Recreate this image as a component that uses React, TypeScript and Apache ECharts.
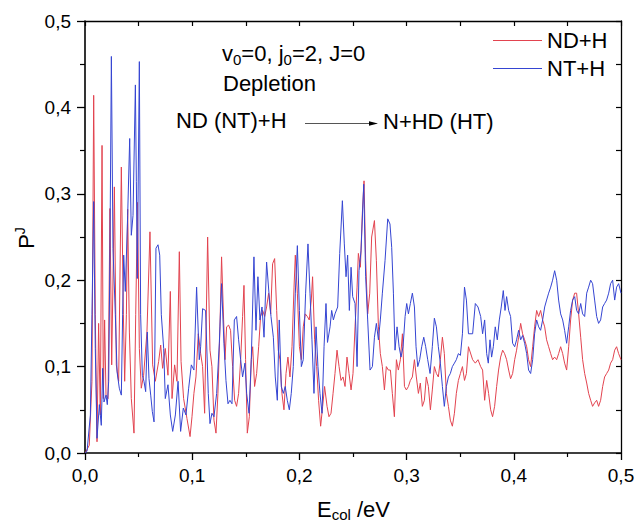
import React, { useEffect, useRef } from "react";
import * as echarts from "echarts";

// ND+H (red) — [E_col (eV), P^J]
const ndSeg1: [number, number][] = [
  [0, 0], [0.001, 0.002], [0.004, 0.009], [0.0065, 0.083], [0.0081, 0.414], [0.0096, 0.16], [0.0112, 0.013],
  [0.0127, 0.15], [0.0143, 0.044], [0.0159, 0.356], [0.0171, 0.063], [0.0183, 0.154], [0.0196, 0.067],
  [0.0215, 0.063], [0.0233, 0.283], [0.0249, 0.102], [0.0274, 0.308], [0.0292, 0.102], [0.0314, 0.083],
  [0.0339, 0.331], [0.0358, 0.16], [0.037, 0.083], [0.0386, 0.16], [0.0398, 0.282], [0.0414, 0.14],
  [0.0432, 0.063], [0.0457, 0.023], [0.0473, 0.16], [0.049, 0.29], [0.0507, 0.121], [0.0525, 0.075],
  [0.0547, 0.09], [0.0578, 0.14], [0.0606, 0.256], [0.0631, 0.102], [0.0656, 0.083], [0.0687, 0.106],
  [0.0706, 0.125], [0.0724, 0.098], [0.0749, 0.121], [0.0774, 0.09], [0.0796, 0.187], [0.0812, 0.063],
  [0.0836, 0.102], [0.0858, 0.083], [0.088, 0.233], [0.0896, 0.106], [0.092, 0.063], [0.0951, 0.04],
  [0.098, 0.019],
];
const ndSeg2: [number, number][] = [
  [0.0998, 0.042], [0.1016, 0.069], [0.1035, 0.088], [0.1057, 0.138], [0.1079, 0.115], [0.1097, 0.1],
  [0.1116, 0.046], [0.1144, 0.25], [0.1166, 0.119], [0.1184, 0.1], [0.1203, 0.038], [0.1222, 0.023],
  [0.124, 0.069], [0.1259, 0.146], [0.1274, 0.227], [0.1293, 0.154], [0.1306, 0.108], [0.1321, 0.146],
  [0.134, 0.148], [0.1358, 0.142], [0.1377, 0.1], [0.1396, 0.061], [0.1414, 0.054], [0.1433, 0.069],
  [0.1452, 0.108], [0.147, 0.158], [0.1483, 0.194], [0.1498, 0.108], [0.1514, 0.023], [0.1533, 0.042],
  [0.1551, 0.108], [0.1564, 0.123], [0.1582, 0.077], [0.1601, 0.092], [0.162, 0.123], [0.1638, 0.158],
  [0.1657, 0.165], [0.1676, 0.158], [0.1694, 0.169], [0.1713, 0.185], [0.1732, 0.161], [0.175, 0.219],
  [0.1769, 0.225], [0.1788, 0.165], [0.1803, 0.119], [0.1819, 0.108], [0.1837, 0.069], [0.1856, 0.05],
  [0.1875, 0.092], [0.1893, 0.111], [0.1912, 0.088], [0.1931, 0.123], [0.195, 0.192], [0.1962, 0.229],
  [0.1981, 0.185], [0.2, 0.123], [0.2018, 0.108], [0.2036, 0.146], [0.2055, 0.161], [0.2074, 0.158],
  [0.2092, 0.154], [0.2111, 0.177], [0.2123, 0.204], [0.2142, 0.131], [0.2161, 0.1], [0.2179, 0.061],
  [0.2198, 0.031], [0.2217, 0.054], [0.2235, 0.077],
];
const ndSeg3: [number, number][] = [
  [0.2258, 0.054], [0.2276, 0.042], [0.2295, 0.046], [0.2314, 0.069], [0.2332, 0.092], [0.2351, 0.119],
  [0.237, 0.1], [0.2388, 0.084], [0.2407, 0.088], [0.2426, 0.077], [0.2444, 0.111], [0.2463, 0.092],
  [0.2482, 0.073], [0.25, 0.092], [0.2519, 0.146], [0.2538, 0.192], [0.255, 0.231], [0.2569, 0.215],
  [0.2587, 0.277], [0.2603, 0.315], [0.2618, 0.223], [0.2637, 0.161], [0.2656, 0.185], [0.2674, 0.25],
  [0.27, 0.269], [0.2718, 0.223], [0.2737, 0.146], [0.2755, 0.115], [0.2774, 0.1], [0.2793, 0.073],
  [0.2811, 0.1], [0.283, 0.096], [0.2849, 0.096], [0.2867, 0.069], [0.2886, 0.042], [0.2905, 0.108],
  [0.2923, 0.096], [0.2942, 0.108], [0.2961, 0.138], [0.298, 0.077], [0.2998, 0.073], [0.3017, 0.077],
  [0.3035, 0.084], [0.3054, 0.088], [0.3073, 0.108], [0.3091, 0.088], [0.311, 0.069], [0.3128, 0.081],
  [0.3147, 0.054], [0.3166, 0.061], [0.3184, 0.088], [0.3203, 0.077], [0.3222, 0.05], [0.324, 0.073],
  [0.3259, 0.1], [0.3278, 0.092], [0.3296, 0.088], [0.3315, 0.108], [0.3334, 0.134], [0.3352, 0.115],
  [0.3371, 0.069], [0.339, 0.054], [0.3408, 0.038], [0.3427, 0.031], [0.3446, 0.046], [0.3464, 0.069],
  [0.3483, 0.084], [0.3502, 0.092], [0.3521, 0.1], [0.354, 0.084], [0.3558, 0.092], [0.3577, 0.123],
];
const ndSeg4: [number, number][] = [
  [0.3616, 0.108], [0.3641, 0.104], [0.3666, 0.108], [0.3691, 0.1], [0.3709, 0.096], [0.3728, 0.061],
  [0.3747, 0.084], [0.3765, 0.069], [0.3784, 0.05], [0.3802, 0.042], [0.3821, 0.054], [0.384, 0.077],
  [0.3858, 0.096], [0.3877, 0.111], [0.3896, 0.119], [0.3914, 0.115], [0.3933, 0.108], [0.3952, 0.096],
  [0.397, 0.086], [0.3989, 0.092], [0.4008, 0.108], [0.4026, 0.119], [0.4045, 0.134], [0.4064, 0.15],
  [0.4082, 0.138], [0.4101, 0.131], [0.412, 0.123], [0.4138, 0.108], [0.4157, 0.1], [0.4176, 0.123],
  [0.4194, 0.146], [0.4213, 0.165], [0.4232, 0.158], [0.425, 0.165], [0.4269, 0.154], [0.4288, 0.146],
  [0.4306, 0.131], [0.4325, 0.123], [0.4344, 0.115], [0.4362, 0.108], [0.4381, 0.111], [0.44, 0.108],
  [0.4418, 0.115], [0.4437, 0.123], [0.4456, 0.115], [0.4474, 0.104], [0.4493, 0.096], [0.4512, 0.123],
  [0.453, 0.154], [0.4549, 0.177], [0.4568, 0.185], [0.4586, 0.185], [0.4605, 0.161], [0.4624, 0.134],
  [0.4642, 0.108], [0.4661, 0.092], [0.468, 0.081], [0.4698, 0.069], [0.4717, 0.061], [0.4735, 0.054],
  [0.4754, 0.058], [0.4773, 0.061], [0.4791, 0.054], [0.481, 0.061], [0.4829, 0.077], [0.4847, 0.088],
  [0.4866, 0.092], [0.4885, 0.096], [0.4903, 0.104], [0.4922, 0.108], [0.4941, 0.119], [0.4959, 0.123],
  [0.4978, 0.115], [0.5, 0.108],
];

// NT+H (blue) — [E_col (eV), P^J]
const ntSeg1: [number, number][] = [
  [0, 0], [0.0019, 0.002], [0.005, 0.044], [0.0065, 0.16], [0.0081, 0.291], [0.0096, 0.121], [0.0112, 0.017],
  [0.0134, 0.056], [0.0152, 0.032], [0.0165, 0.098], [0.0177, 0.059], [0.0196, 0.067], [0.0208, 0.056],
  [0.0221, 0.083], [0.0233, 0.237], [0.0246, 0.459], [0.0261, 0.237], [0.0283, 0.16], [0.0299, 0.094],
  [0.032, 0.075], [0.0339, 0.067], [0.0351, 0.16], [0.0361, 0.229], [0.0376, 0.187], [0.0398, 0.275],
  [0.0417, 0.364], [0.0432, 0.252], [0.0448, 0.275], [0.047, 0.426], [0.0479, 0.314], [0.0488, 0.202],
  [0.0507, 0.453], [0.0519, 0.16], [0.0535, 0.09], [0.055, 0.083], [0.0566, 0.071], [0.0581, 0.14],
  [0.0597, 0.086], [0.0613, 0.067], [0.0628, 0.048], [0.0644, 0.036], [0.0662, 0.237], [0.0681, 0.241],
  [0.0697, 0.229], [0.0712, 0.16], [0.0734, 0.121], [0.0749, 0.063], [0.0774, 0.079], [0.0796, 0.044],
  [0.0818, 0.025], [0.0843, 0.044], [0.0868, 0.083], [0.0892, 0.025], [0.0917, 0.052], [0.0942, 0.044],
  [0.0967, 0.075], [0.0992, 0.102],
];
const ntSeg2: [number, number][] = [
  [0.1016, 0.096], [0.1041, 0.192], [0.1066, 0.108], [0.1079, 0.123], [0.1097, 0.167], [0.1125, 0.165],
  [0.115, 0.069], [0.1166, 0.034], [0.1184, 0.046], [0.1203, 0.042], [0.1228, 0.069], [0.1253, 0.127],
  [0.1274, 0.196], [0.1296, 0.127], [0.1315, 0.084], [0.1334, 0.057], [0.1352, 0.061], [0.1371, 0.057],
  [0.1393, 0.154], [0.1414, 0.158], [0.1433, 0.131], [0.1452, 0.108], [0.147, 0.088], [0.1492, 0.104],
  [0.1508, 0.069], [0.153, 0.046], [0.1551, 0.108], [0.1576, 0.227], [0.1595, 0.142], [0.1613, 0.204],
  [0.1632, 0.154], [0.1651, 0.169], [0.167, 0.134], [0.1694, 0.221], [0.1716, 0.185], [0.1735, 0.158],
  [0.1757, 0.134], [0.1775, 0.088], [0.1794, 0.061], [0.1812, 0.154], [0.1831, 0.077], [0.185, 0.069],
  [0.1868, 0.077], [0.1887, 0.061], [0.1906, 0.05], [0.1924, 0.069], [0.1943, 0.1], [0.1962, 0.185],
  [0.1981, 0.24], [0.2, 0.165], [0.2018, 0.1], [0.2036, 0.108], [0.2058, 0.185], [0.208, 0.242],
  [0.2099, 0.185], [0.2117, 0.131], [0.2136, 0.069], [0.2155, 0.146], [0.2173, 0.1], [0.2192, 0.069],
  [0.2211, 0.046], [0.223, 0.123],
];
const ntSeg3: [number, number][] = [
  [0.2248, 0.173], [0.2262, 0.128], [0.2286, 0.146], [0.2301, 0.165], [0.2317, 0.154], [0.2332, 0.161],
  [0.2357, 0.169], [0.2376, 0.231], [0.2401, 0.292], [0.2419, 0.242], [0.2435, 0.204], [0.245, 0.229],
  [0.2466, 0.165], [0.2482, 0.215], [0.2497, 0.181], [0.2519, 0.173], [0.2538, 0.1], [0.2556, 0.211],
  [0.2575, 0.234], [0.26, 0.311], [0.2618, 0.204], [0.2637, 0.154], [0.2659, 0.096], [0.2681, 0.1],
  [0.27, 0.134], [0.2718, 0.15], [0.2737, 0.131], [0.2755, 0.154], [0.2774, 0.185], [0.2799, 0.223],
  [0.2824, 0.271], [0.2845, 0.265], [0.2861, 0.238], [0.2877, 0.185], [0.2892, 0.119], [0.2911, 0.146],
  [0.293, 0.123], [0.2948, 0.111], [0.2967, 0.123], [0.2986, 0.158], [0.3001, 0.173], [0.3017, 0.161],
  [0.3035, 0.173], [0.3054, 0.185], [0.3073, 0.169], [0.3088, 0.123], [0.3104, 0.1], [0.3122, 0.108],
  [0.3141, 0.123], [0.316, 0.134], [0.3178, 0.123], [0.3197, 0.108], [0.3219, 0.092], [0.324, 0.123],
  [0.3259, 0.156], [0.3278, 0.146], [0.3296, 0.123], [0.3315, 0.104], [0.3334, 0.077], [0.3352, 0.054],
  [0.3371, 0.077], [0.339, 0.088], [0.3408, 0.092], [0.3427, 0.1], [0.3446, 0.104], [0.3464, 0.108],
  [0.3483, 0.115], [0.3502, 0.113], [0.3521, 0.138], [0.354, 0.192], [0.3558, 0.177], [0.3577, 0.138],
];
const ntSeg4: [number, number][] = [
  [0.3616, 0.138], [0.3641, 0.173], [0.3666, 0.169], [0.3691, 0.158], [0.3709, 0.138], [0.3728, 0.154],
  [0.3747, 0.115], [0.3762, 0.104], [0.3778, 0.131], [0.3793, 0.111], [0.3809, 0.123], [0.3827, 0.146],
  [0.3846, 0.131], [0.3865, 0.154], [0.3883, 0.169], [0.3902, 0.188], [0.3918, 0.165], [0.3933, 0.181],
  [0.3952, 0.165], [0.397, 0.158], [0.3989, 0.127], [0.4008, 0.123], [0.4026, 0.131], [0.4045, 0.142],
  [0.4064, 0.131], [0.4082, 0.136], [0.4101, 0.127], [0.412, 0.115], [0.4138, 0.096], [0.4157, 0.092],
  [0.4176, 0.108], [0.4194, 0.138], [0.4213, 0.154], [0.4232, 0.146], [0.425, 0.142], [0.4269, 0.154],
  [0.4288, 0.169], [0.4306, 0.177], [0.4325, 0.185], [0.4344, 0.192], [0.4362, 0.2], [0.4381, 0.211],
  [0.44, 0.2], [0.4418, 0.177], [0.4437, 0.161], [0.4456, 0.154], [0.4474, 0.142], [0.4493, 0.127],
  [0.4512, 0.146], [0.453, 0.165], [0.4549, 0.177], [0.4568, 0.181], [0.4586, 0.165], [0.4605, 0.161],
  [0.4624, 0.173], [0.4642, 0.161], [0.4661, 0.158], [0.468, 0.185], [0.4698, 0.192], [0.4717, 0.2],
  [0.4735, 0.196], [0.4754, 0.177], [0.4773, 0.158], [0.4791, 0.15], [0.481, 0.154], [0.4829, 0.169],
  [0.4847, 0.173], [0.4866, 0.177], [0.4885, 0.185], [0.4903, 0.196], [0.4922, 0.2], [0.4941, 0.177],
  [0.4959, 0.192], [0.4978, 0.196], [0.5, 0.185],
];

const seriesNames = ["ND+H", "NT+H"];
const seriesColors = ["#e2434f", "#3545d2"];
const axisMin = 0;
const axisMax = 0.5;
const majorStep = 0.1;
const minorStep = 0.05;

const FONT = "'Liberation Sans', Arial, Helvetica, sans-serif";
const fmt = (v: number) => v.toFixed(1).replace(".", ",");

export default function App() {
  const ref = useRef<HTMLDivElement>(null);

  useEffect(() => {
    if (!ref.current) return;
    const chart = echarts.init(ref.current, undefined, { renderer: "svg" });
    const ndData = [...ndSeg1, ...ndSeg2, ...ndSeg3, ...ndSeg4];
    const ntData = [...ntSeg1, ...ntSeg2, ...ntSeg3, ...ntSeg4];

    const mainAxisCommon = {
      type: "value" as const,
      min: axisMin,
      max: axisMax,
      interval: majorStep,
      splitLine: { show: false },
      axisLine: { show: true, onZero: false, lineStyle: { color: "#000", width: 1.6 } },
      axisTick: { show: true, inside: false, length: 7, lineStyle: { color: "#000", width: 1.3 } },
      minorTick: { show: true, splitNumber: 2, length: 4, lineStyle: { color: "#000", width: 1.2 } },
      minorSplitLine: { show: false },
    };
    const mirrorAxisCommon = {
      type: "value" as const,
      min: axisMin,
      max: axisMax,
      interval: minorStep,
      splitLine: { show: false },
      axisLabel: { show: false },
      axisLine: { show: true, onZero: false, lineStyle: { color: "#000", width: 1.3 } },
      axisTick: { show: true, inside: true, length: 5, lineStyle: { color: "#000", width: 1.2 } },
    };

    const subRich = {
      m: { fontSize: 22, fontFamily: FONT, lineHeight: 26, fill: "#000", color: "#000" },
      s: { fontSize: 15, fontFamily: FONT, lineHeight: 15, verticalAlign: "bottom", fill: "#000", color: "#000" },
    };

    chart.setOption({
      animation: false,
      backgroundColor: "#fff",
      grid: { left: 85, right: 15, top: 21, bottom: 69, containLabel: false, outerBoundsMode: "none" },
      legend: {
        show: true,
        orient: "vertical",
        left: 493,
        top: 29.5,
        padding: 0,
        icon: "rect",
        itemWidth: 49,
        itemHeight: 1,
        itemGap: 6,
        textStyle: { fontSize: 22, fontFamily: FONT, color: "#000", lineHeight: 22 },
        data: seriesNames,
      },
      xAxis: [
        {
          ...mainAxisCommon,
          position: "bottom",
          axisLabel: { show: true, formatter: fmt, fontSize: 19, fontFamily: FONT, color: "#000", margin: 13, lineHeight: 19 },
        },
        { ...mirrorAxisCommon, position: "top" },
      ],
      yAxis: [
        {
          ...mainAxisCommon,
          position: "left",
          axisTick: { show: true, inside: false, length: 8, lineStyle: { color: "#000", width: 1.3 } },
          minorTick: { show: true, splitNumber: 2, length: 5, lineStyle: { color: "#000", width: 1.2 } },
          axisLabel: { show: true, formatter: fmt, fontSize: 19, fontFamily: FONT, color: "#000", margin: 14 },
        },
        { ...mirrorAxisCommon, position: "right" },
      ],
      series: [
        {
          name: seriesNames[0],
          type: "line",
          data: ndData,
          xAxisIndex: 0,
          yAxisIndex: 0,
          symbol: "none",
          showSymbol: false,
          color: seriesColors[0],
          itemStyle: { color: seriesColors[0] },
          lineStyle: { color: seriesColors[0], width: 1 },
          z: 2,
        },
        {
          name: seriesNames[1],
          type: "line",
          data: ntData,
          xAxisIndex: 0,
          yAxisIndex: 0,
          symbol: "none",
          showSymbol: false,
          color: seriesColors[1],
          itemStyle: { color: seriesColors[1] },
          lineStyle: { color: seriesColors[1], width: 1 },
          z: 3,
        },
      ],
      graphic: [
        {
          type: "text",
          x: 222,
          y: 53.5,
          style: {
            text: "{m|v}{s|0}{m|=0, j}{s|0}{m|=2, J=0}",
            rich: subRich,
            align: "left",
            verticalAlign: "middle",
            textAlign: "left",
            textVerticalAlign: "middle",
          },
          z: 10,
        },
        {
          type: "text",
          x: 223,
          y: 83.5,
          style: {
            text: "Depletion",
            fontSize: 22,
            fontFamily: FONT,
            fill: "#000",
            align: "left",
            verticalAlign: "middle",
            textAlign: "left",
            textVerticalAlign: "middle",
          },
          z: 10,
        },
        {
          type: "text",
          x: 176,
          y: 120.5,
          style: {
            text: "ND (NT)+H",
            fontSize: 22,
            fontFamily: FONT,
            fill: "#000",
            align: "left",
            verticalAlign: "middle",
            textAlign: "left",
            textVerticalAlign: "middle",
          },
          z: 10,
        },
        {
          type: "line",
          shape: { x1: 305, y1: 123.5, x2: 372, y2: 123.5 },
          style: { stroke: "#555", lineWidth: 1 },
          z: 10,
        },
        {
          type: "polygon",
          shape: { points: [[369, 121.2], [378, 123.5], [369, 125.8]] },
          style: { fill: "#000" },
          z: 10,
        },
        {
          type: "text",
          x: 383,
          y: 121,
          style: {
            text: "N+HD (HT)",
            fontSize: 22,
            fontFamily: FONT,
            fill: "#000",
            align: "left",
            verticalAlign: "middle",
            textAlign: "left",
            textVerticalAlign: "middle",
          },
          z: 10,
        },
        {
          type: "text",
          x: 26,
          y: 238,
          rotation: Math.PI / 2,
          style: {
            text: "{m|P}{u|J}",
            rich: {
              m: { fontSize: 22, fontFamily: FONT, lineHeight: 26, fill: "#000", color: "#000" },
              u: { fontSize: 14, fontFamily: FONT, lineHeight: 14, verticalAlign: "top", fill: "#000", color: "#000" },
            },
            align: "center",
            verticalAlign: "middle",
            textAlign: "center",
            textVerticalAlign: "middle",
          },
          z: 10,
        },
        {
          type: "text",
          x: 353.5,
          y: 509,
          style: {
            text: "{m|E}{s|col}{m| /eV}",
            rich: subRich,
            align: "center",
            verticalAlign: "middle",
            textAlign: "center",
            textVerticalAlign: "middle",
          },
          z: 10,
        },
      ],
    });

    return () => {
      chart.dispose();
    };
  }, []);

  return (
    <div
      ref={ref}
      style={{ position: "fixed", left: 0, top: 0, width: 636, height: 522, background: "#fff" }}
    />
  );
}
